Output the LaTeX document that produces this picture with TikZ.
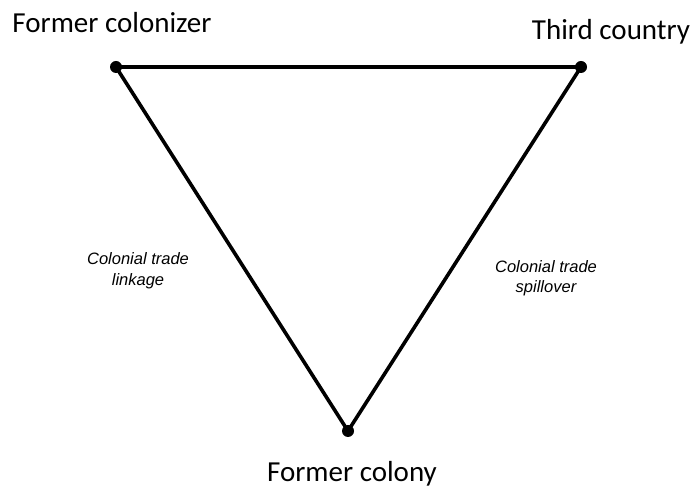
\documentclass[tikz,border=0pt]{standalone}
\usepackage{fontspec}
\setmainfont{Carlito}
\newfontfamily\lblfont{Liberation Sans}
\begin{document}
\begin{tikzpicture}[x=1pt,y=1pt,
  vtx/.style={circle,fill=black,inner sep=0pt,minimum size=12pt},
  edge/.style={line width=3.6pt},
  biglbl/.style={font=\fontsize{29}{32}\selectfont},
  smalllbl/.style={font=\lblfont\fontsize{16.5}{20.5}\selectfont\itshape,align=center,inner sep=0pt}]
\useasboundingbox (0,0) rectangle (694,490);
\node[vtx] (A) at (116,423) {};
\node[vtx] (B) at (581,423) {};
\node[vtx] (C) at (348,59) {};
\draw[edge,line join=round] (A.center) -- (B.center) -- (C.center) -- cycle;
\node[biglbl] (la) at (112,467) {Former colonizer};
\node[biglbl] (lb) at (611,458) {Third country};
\node[biglbl] (lc) at (352,16) {Former colony};
\node[smalllbl] (ll) at (138,219.5) {Colonial trade\\linkage};
\node[smalllbl] (ls) at (546,212) {Colonial trade\\spillover};
\end{tikzpicture}
\end{document}
